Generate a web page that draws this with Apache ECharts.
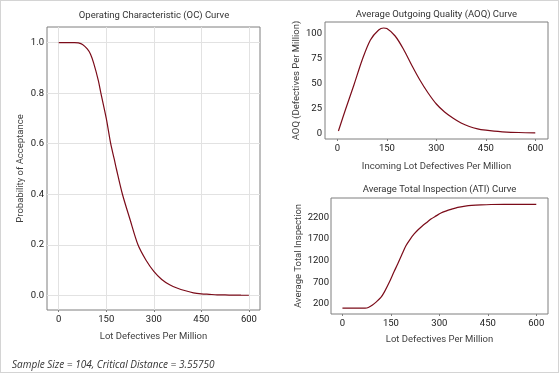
<!DOCTYPE html>
<html>
<head>
<meta charset="utf-8">
<script src="https://cdn.jsdelivr.net/npm/echarts@6/dist/echarts.min.js"></script>
<style>
html,body{margin:0;padding:0;background:#fff;}
#c{width:559px;height:373px;box-sizing:border-box;border:1px solid #d4d4d4;}
</style>
</head>
<body>
<div id="c"></div>
<script>
// ---- Data ----
const ocX = [0, 25, 50, 62, 75, 90, 100, 110, 125, 133, 150, 164, 175, 182, 201, 225, 250, 275, 300, 325, 350, 375, 400, 425, 450, 475, 500, 525, 550, 575, 600];
const ocY = [1.0, 1.0, 1.0, 0.999, 0.993, 0.975, 0.955, 0.92, 0.85, 0.80, 0.70, 0.60, 0.54, 0.50, 0.40, 0.30, 0.20, 0.14, 0.095, 0.063, 0.042, 0.028, 0.018, 0.010, 0.006, 0.004, 0.002, 0.0015, 0.001, 0.0005, 0.0003];

const aoqX = [3, 25, 50, 75, 100, 125, 140, 150, 175, 200, 225, 250, 275, 300, 325, 350, 375, 400, 425, 450, 475, 500, 550, 600];
const aoqY = [3, 25, 49, 74, 94, 104, 106, 105.5, 98, 85, 69, 54, 41, 30, 22, 16, 11, 7.5, 5.2, 3.8, 2.8, 2.2, 1.5, 1.2];

const atiX = [0, 50, 70, 80, 93, 105, 119, 130, 145, 160, 171, 185, 196.5, 210, 222, 235, 248, 262, 274, 290, 305, 320, 336, 357, 380, 400, 429, 460, 500, 600];
const atiY = [104, 104, 106, 120, 177, 250, 352, 480, 700, 950, 1124, 1360, 1546, 1700, 1817, 1920, 2008, 2090, 2163, 2235, 2300, 2345, 2385, 2430, 2460, 2477, 2490, 2498, 2500, 2500];

const xTicks = [0, 150, 300, 450, 600];
const ocTicks = [0.0, 0.2, 0.4, 0.6, 0.8, 1.0];
const aoqTicks = [0, 25, 50, 75, 100];
const atiTicks = [200, 700, 1200, 1700, 2200];

const titles = ['Operating Characteristic (OC) Curve', 'Average Outgoing Quality (AOQ) Curve', 'Average Total Inspection (ATI) Curve'];
const xNames = ['Lot Defectives Per Million', 'Incoming Lot Defectives Per Million', 'Lot Defectives Per Million'];
const yNames = ['Probability of Acceptance', 'AOQ (Defectives Per Million)', 'Average Total Inspection'];
const footnote = 'Sample Size = 104, Critical Distance = 3.55750';

// ---- Chart ----
const FONT = 'Roboto, "Noto Sans", sans-serif';
const FOOTFONT = '"Open Sans", "Noto Sans", sans-serif';
const LINE = '#7b0b19';
const zip = (a, b) => a.map((v, i) => [v, b[i]]);

const grids = [
  {left: 46, top: 26, width: 213, height: 283},
  {left: 324, top: 21, width: 223, height: 117},
  {left: 330, top: 197, width: 217, height: 116}
];
const xRanges = [[-37, 635], [-37.7, 638.6], [-35.4, 636.3]];
const yRanges = [[-0.058, 1.062], [-5, 112], [-31, 2648]];
const yTickSets = [ocTicks, aoqTicks, atiTicks];
const xNameGaps = [22, 23, 21];
const yNameGaps = [21, 21, 26];
const yLabelMargins = [3, 3, 2];
const showGrid = [true, false, false];

const chart = echarts.init(document.getElementById('c'), null, {renderer: 'canvas'});

const option = {
  animation: false,
  backgroundColor: '#ffffff',
  grid: grids.map(g => Object.assign({show: true, borderColor: '#7f7f7f', borderWidth: 1, backgroundColor: 'transparent', containLabel: false}, g)),
  xAxis: grids.map((g, i) => ({
    type: 'value', gridIndex: i,
    min: xRanges[i][0], max: xRanges[i][1],
    name: xNames[i], nameLocation: 'middle', nameGap: xNameGaps[i],
    nameTextStyle: {fontFamily: FONT, fontSize: 9.5, color: '#404040'},
    axisLine: {show: false, onZero: false},
    axisTick: {show: true, length: 2, lineStyle: {color: '#7f7f7f'}, customValues: xTicks},
    axisLabel: {fontFamily: FONT, fontSize: 9.5, color: '#1a1a1a', margin: 5, customValues: xTicks},
    splitLine: {show: showGrid[i], lineStyle: {color: '#e2e2e2', width: 1}}
  })),
  yAxis: grids.map((g, i) => ({
    type: 'value', gridIndex: i,
    min: yRanges[i][0], max: yRanges[i][1],
    name: yNames[i], nameLocation: 'middle', nameGap: yNameGaps[i],
    nameTextStyle: {fontFamily: FONT, fontSize: 9.5, color: '#404040'},
    axisLine: {show: false, onZero: false},
    axisTick: {show: false, customValues: yTickSets[i]},
    axisLabel: {fontFamily: FONT, fontSize: 9.5, color: '#1a1a1a', margin: yLabelMargins[i], customValues: yTickSets[i],
      formatter: i === 0 ? (v => v.toFixed(1)) : (v => String(v))},
    splitLine: {show: showGrid[i], lineStyle: {color: '#e2e2e2', width: 1}}
  })),
  series: [
    {type: 'line', xAxisIndex: 0, yAxisIndex: 0, data: zip(ocX, ocY)},
    {type: 'line', xAxisIndex: 1, yAxisIndex: 1, data: zip(aoqX, aoqY)},
    {type: 'line', xAxisIndex: 2, yAxisIndex: 2, data: zip(atiX, atiY)}
  ].map(s => Object.assign({showSymbol: false, smooth: 0.3, lineStyle: {color: LINE, width: 1.2}, itemStyle: {color: LINE}, silent: true}, s)),
  graphic: [
    {type: 'text', x: 153, y: 15, style: {text: titles[0], font: '9.5px ' + FONT, fill: '#333', align: 'center', verticalAlign: 'middle'}},
    {type: 'text', x: 435.5, y: 13.5, style: {text: titles[1], font: '9.5px ' + FONT, fill: '#333', align: 'center', verticalAlign: 'middle'}},
    {type: 'text', x: 438.5, y: 188.5, style: {text: titles[2], font: '9.5px ' + FONT, fill: '#333', align: 'center', verticalAlign: 'middle'}},
    {type: 'text', x: 11, y: 364, style: {text: footnote, font: 'italic 10px ' + FOOTFONT, fill: '#333', align: 'left', verticalAlign: 'middle'}}
  ]
};
chart.setOption(option);
</script>
</body>
</html>
